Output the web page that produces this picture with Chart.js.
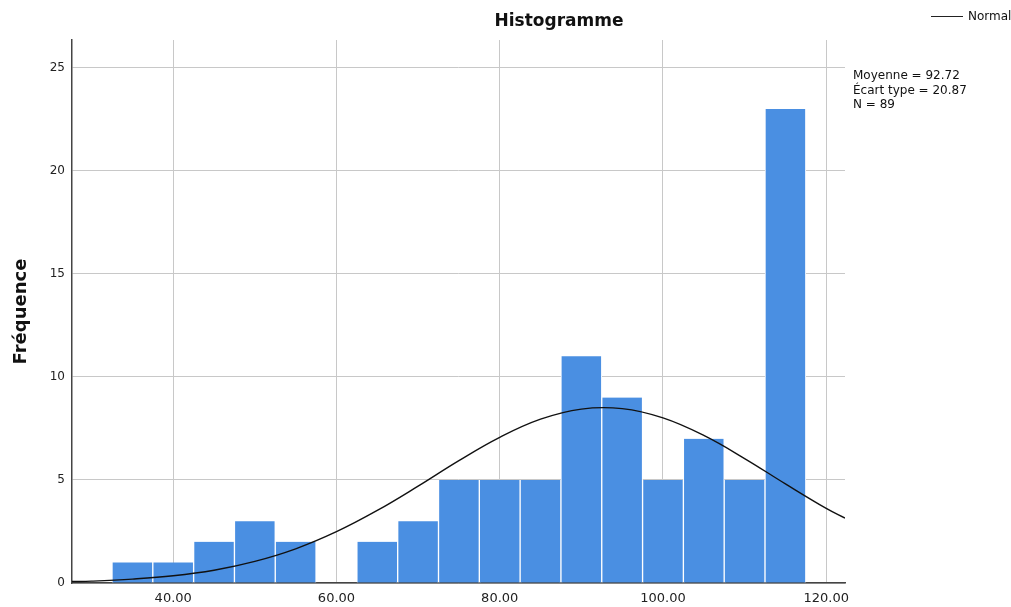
<!DOCTYPE html>
<html><head><meta charset="utf-8">
<script src="https://cdn.jsdelivr.net/npm/chart.js@4/dist/chart.umd.min.js"></script>
<style>html,body{margin:0;padding:0;background:#fff}#wrap{width:1011px;height:607px}</style>
</head><body><div id="wrap"><canvas id="c" width="1011" height="607"></canvas></div>
<script>
// Bin centres (bin width 5) and counts
const binCenters = [35, 40, 45, 50, 55, 60, 65, 70, 75, 80, 85, 90, 95, 100, 105, 110, 115];
const binCounts  = [1, 1, 2, 3, 2, 0, 2, 3, 5, 5, 5, 11, 9, 5, 7, 5, 23];
// Normal curve
const curveX = [27.6, 30, 35, 40, 45, 50, 55, 60, 65, 70, 75, 80, 85, 90, 95, 100, 105, 110, 115, 120, 122.3];
const curveY = [0.07, 0.09, 0.19, 0.35, 0.62, 1.05, 1.66, 2.49, 3.52, 4.70, 5.94, 7.07, 7.95, 8.44, 8.46, 8.01, 7.16, 6.04, 4.81, 3.62, 3.15];
const xTicks = [40, 60, 80, 100, 120];
const xTickLabels = ['40.00', '60.00', '80.00', '100.00', '120.00'];
const yTicks = [0, 5, 10, 15, 20, 25];
const statsLines = ['Moyenne = 92.72', 'Écart type = 20.87', 'N = 89'];
const chartTitle = 'Histogramme';
const legendLabel = 'Normal';

const FONT = '"DejaVu Sans", "Liberation Sans", Arial, sans-serif';

const textPlugin = {
  id: 'texts',
  afterDraw(chart) {
    const ctx = chart.ctx;
    ctx.save();
    ctx.fillStyle = '#111';
    ctx.font = 'bold 17px ' + FONT;
    ctx.textAlign = 'center';
    ctx.textBaseline = 'middle';
    ctx.fillText(chartTitle, 559, 22);
    // legend
    ctx.strokeStyle = '#222';
    ctx.lineWidth = 1;
    ctx.beginPath(); ctx.moveTo(931, 16.5); ctx.lineTo(963, 16.5); ctx.stroke();
    ctx.font = '12px ' + FONT;
    ctx.textAlign = 'left';
    ctx.fillText(legendLabel, 968, 17);
    // stats
    statsLines.forEach((s, i) => ctx.fillText(s, 853, 76 + i * 14.5));
    ctx.restore();
  }
};

new Chart(document.getElementById('c'), {
  type: 'bar',
  data: {
    datasets: [
      {
        type: 'line',
        data: curveX.map((x, i) => ({x, y: curveY[i]})),
        borderColor: '#111',
        borderWidth: 1.4,
        pointRadius: 0,
        tension: 0.4,
        fill: false,
        order: 0
      },
      {
        type: 'bar',
        data: binCenters.map((x, i) => ({x, y: binCounts[i]})),
        backgroundColor: '#4a8fe2',
        borderColor: '#ffffff',
        borderWidth: {left: 1, right: 1, top: 0, bottom: 0},
        borderSkipped: false,
        barPercentage: 1,
        categoryPercentage: 1,
        order: 1
      }
    ]
  },
  options: {
    responsive: false,
    animation: false,
    layout: {padding: {top: 40, right: 166, left: 7, bottom: 0}},
    plugins: {legend: {display: false}, tooltip: {enabled: false}, title: {display: false}},
    scales: {
      x: {
        type: 'linear',
        min: 27.6, max: 122.3,
        offset: false,
        afterBuildTicks: s => { s.ticks = xTicks.map(v => ({value: v})); },
        afterFit: s => { s.height = 24; },
        ticks: {
          padding: 8,
          color: '#222',
          font: {family: FONT, size: 13},
          maxRotation: 0,
          callback: (v) => xTickLabels[xTicks.indexOf(v)] ?? ''
        },
        grid: {color: '#c8c8c8', lineWidth: 1, drawTicks: false, offset: false},
        border: {color: '#444', width: 1.5}
      },
      y: {
        min: 0, max: 26.35,
        afterBuildTicks: s => { s.ticks = yTicks.map(v => ({value: v})); },
        afterFit: s => { s.width = 65; },
        ticks: {
          padding: 7,
          color: '#222',
          font: {family: FONT, size: 12}
        },
        grid: {color: '#c8c8c8', lineWidth: 1, drawTicks: false},
        border: {color: '#444', width: 1.5},
        title: {
          display: true,
          text: 'Fréquence',
          color: '#111',
          font: {family: FONT, size: 18, weight: 'bold'},
          padding: 4
        }
      }
    }
  },
  plugins: [textPlugin]
});
</script></body></html>
